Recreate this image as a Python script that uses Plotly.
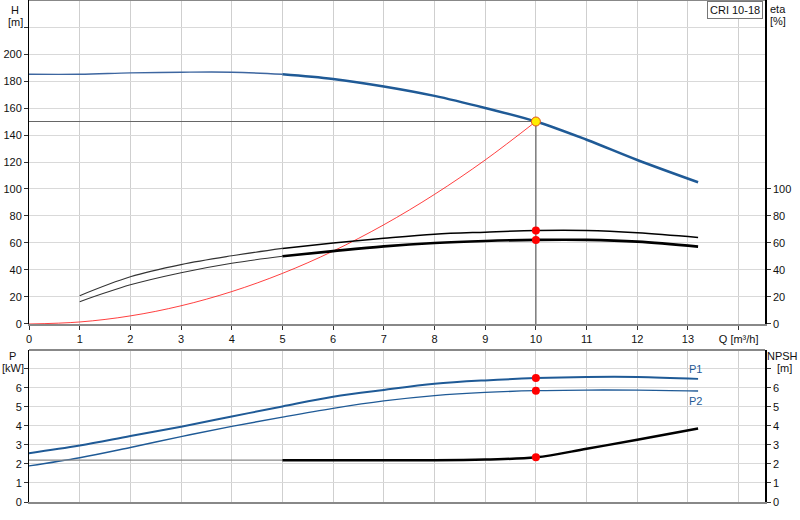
import plotly.graph_objects as go

# flow rate Q [m3/h]
q = [0, 1, 2, 3, 4, 5, 6, 7, 8, 9, 10, 11, 12, 13.2]
q_eta = [1, 2, 3, 4, 5, 6, 7, 8, 9, 10, 11, 12, 13.2]

# head H [m]
head = [185, 185, 186, 186.5, 186.5, 185, 181.5, 176, 169, 160, 150, 136.5, 121.5, 105]
# system curve
q_sys = [0, 1, 2, 3, 4, 5, 6, 7, 8, 9, 10]
h_sys = [0, 1.5, 6, 13.5, 24, 37.5, 54, 73.5, 96, 121.5, 150]
# efficiencies [%]
eta_1 = [21, 35, 44, 50.5, 56, 60, 63.5, 66.5, 68, 69.2, 69.2, 67.5, 64]
eta_2 = [16.5, 29, 38, 45, 50.2, 54, 57.5, 60, 61.5, 62.3, 62.3, 61, 57.3]
# power P1, P2 [kW]
p1 = [2.57, 2.97, 3.47, 3.96, 4.5, 5.03, 5.54, 5.9, 6.22, 6.4, 6.52, 6.58, 6.58, 6.48]
p2 = [1.9, 2.33, 2.87, 3.44, 3.98, 4.47, 4.93, 5.32, 5.6, 5.77, 5.86, 5.89, 5.89, 5.84]
# NPSH [m]
npsh = [2.2, 2.2, 2.2, 2.2, 2.2, 2.2, 2.2, 2.2, 2.2, 2.24, 2.35, 2.8, 3.28, 3.87]

duty_q = 10
duty_h = 150
duty_eta = [69.2, 62.3]
duty_p = [6.52, 5.86]
duty_npsh = 2.35

h_ticks = list(range(0, 221, 20))
eta_ticks = list(range(0, 101, 20))
p_ticks = list(range(0, 8))
q_ticks = list(range(0, 15))

BLUE = "#1f5a96"
FONT = dict(family="Liberation Sans, Arial", size=11, color="#111")

fig = go.Figure()

def cut(xs, ys, a, b):
    pts = [(x, y) for x, y in zip(xs, ys) if a <= x <= b]
    return [p[0] for p in pts], [p[1] for p in pts]

# ---- top panel ----
x, y = cut(q, head, 0, 5)
fig.add_trace(go.Scatter(x=x, y=y, mode="lines", line=dict(color="#3d66a0", width=1.4, shape="spline")))
x, y = cut(q, head, 5, 14)
fig.add_trace(go.Scatter(x=x, y=y, mode="lines", line=dict(color=BLUE, width=2.5, shape="spline")))
fig.add_trace(go.Scatter(x=q_sys, y=h_sys, mode="lines", line=dict(color="rgba(255,0,0,0.75)", width=1, shape="spline")))

for e, w in ((eta_1, 1.5), (eta_2, 2.6)):
    x, y = cut(q_eta, e, 0, 5)
    fig.add_trace(go.Scatter(x=x, y=y, mode="lines", line=dict(color="#333", width=1.1, shape="spline")))
    x, y = cut(q_eta, e, 5, 14)
    fig.add_trace(go.Scatter(x=x, y=y, mode="lines", line=dict(color="black", width=w, shape="spline")))

# duty point guide lines
fig.add_trace(go.Scatter(x=[0, duty_q, duty_q], y=[duty_h, duty_h, 0], mode="lines",
                         line=dict(color="#666", width=1.2)))
fig.add_trace(go.Scatter(x=[duty_q] * 2, y=duty_eta, mode="markers",
                         marker=dict(color="red", size=8)))
fig.add_trace(go.Scatter(x=[duty_q], y=[duty_h], mode="markers",
                         marker=dict(color="#ffee00", size=9, line=dict(color="#e05020", width=1))))

# ---- bottom panel ----
fig.add_trace(go.Scatter(x=q, y=p1, mode="lines", xaxis="x2", yaxis="y2",
                         line=dict(color=BLUE, width=2, shape="spline")))
fig.add_trace(go.Scatter(x=q, y=p2, mode="lines", xaxis="x2", yaxis="y2",
                         line=dict(color=BLUE, width=1.4, shape="spline")))
x, y = cut(q, npsh, 0, 5)
fig.add_trace(go.Scatter(x=x, y=y, mode="lines", xaxis="x2", yaxis="y2",
                         line=dict(color="#888", width=1.2)))
x, y = cut(q, npsh, 5, 14)
fig.add_trace(go.Scatter(x=x, y=y, mode="lines", xaxis="x2", yaxis="y2",
                         line=dict(color="black", width=2.5, shape="spline")))
fig.add_trace(go.Scatter(x=[duty_q] * 3, y=duty_p + [duty_npsh], mode="markers",
                         xaxis="x2", yaxis="y2", marker=dict(color="red", size=8)))

grid = "#d9d9d9"
common = dict(automargin=False, zeroline=False, tickfont=FONT)
top_dom = [0.3546, 1]
bot_dom = [0, 0.3028]
fig.update_layout(
    width=800, height=520, showlegend=False,
    margin=dict(l=29, r=35, t=0, b=18),
    plot_bgcolor="white", paper_bgcolor="white", font=FONT,
    xaxis=dict(range=[0, 14.52], tickvals=q_ticks,
               ticktext=[str(v) for v in q_ticks[:-1]] + ["Q [m³/h]"],
               showgrid=True, gridcolor="#cfcfcf", gridwidth=1.3,
               showline=True, linecolor="#888", linewidth=2,
               ticks="outside", ticklen=4, tickcolor="#333", anchor="y", **common),
    yaxis=dict(domain=top_dom, range=[0, 240], tickvals=h_ticks,
               ticktext=[str(v) if v <= 200 else "" for v in h_ticks],
               showgrid=True, gridcolor=grid, gridwidth=1.3,
               showline=True, linecolor="black", linewidth=1,
               ticks="outside", ticklen=4, tickcolor="#333", anchor="x", **common),
    yaxis3=dict(overlaying="y", side="right", range=[0, 240], tickvals=eta_ticks,
                showgrid=False, showline=True, linecolor="black",
                linewidth=1.5, ticks="outside", ticklen=4, tickcolor="#333", anchor="x", **common),
    xaxis2=dict(range=[0, 14.52], dtick=1, showticklabels=False,
                showgrid=True, gridcolor="#cfcfcf", gridwidth=1.3,
                showline=True, linecolor="#888", linewidth=2, anchor="y2", **common),
    yaxis2=dict(domain=bot_dom, range=[0, 8], tickvals=p_ticks,
                ticktext=[str(v) if v <= 6 else "" for v in p_ticks],
                showgrid=True, gridcolor=grid, gridwidth=1.3,
                showline=True, linecolor="black", linewidth=1,
                ticks="outside", ticklen=4, tickcolor="#333", anchor="x2", **common),
    yaxis4=dict(overlaying="y2", side="right", range=[0, 8], tickvals=p_ticks,
                ticktext=[str(v) if v <= 6 else "" for v in p_ticks],
                showgrid=False, showline=True, linecolor="black",
                linewidth=1.5, ticks="outside", ticklen=4, tickcolor="#333", anchor="x2", **common),
)
# dummy traces so the right axes render
fig.add_trace(go.Scatter(x=[None], y=[None], yaxis="y3", showlegend=False))
fig.add_trace(go.Scatter(x=[None], y=[None], xaxis="x2", yaxis="y4", showlegend=False))

# top borders of both panels
fig.add_shape(type="line", xref="x domain", yref="y domain", x0=0, x1=1, y0=1, y1=1,
              line=dict(color="#888", width=2))
fig.add_shape(type="line", xref="x2 domain", yref="y2 domain", x0=0, x1=1, y0=1, y1=1,
              line=dict(color="#888", width=2))

# axis titles, placed in pixels via paper coords (plot area: x 29..765, y 0..502)
def px(xp, yp):
    return (xp - 29) / 736, (502 - yp) / 502

ann = [
    ("H", 15, 2, "center"), ("[m]", 15, 14, "center"),
    ("eta", 768, 1, "left"), ("[%]", 768, 13, "left"),
    ("P", 12, 348, "center"), ("[kW]", 13, 360, "center"),
    ("NPSH", 800, 348, "right"), ("[m]", 784, 360, "center"),
]
for t, xp, yp, anc in ann:
    xa, ya = px(xp, yp)
    fig.add_annotation(text=t, xref="paper", yref="paper", x=xa, y=ya, showarrow=False,
                       xanchor=anc, yanchor="top", font=FONT)

xa, ya = px(763, 1)
fig.add_annotation(text="CRI 10-18", xref="paper", yref="paper", x=xa, y=ya,
                   xanchor="right", yanchor="top", showarrow=False, font=FONT,
                   bgcolor="white", bordercolor="#777", borderwidth=1, borderpad=2)
fig.add_annotation(text="P1", x=13.2, y=p1[-1], xref="x2", yref="y2", showarrow=False,
                   yshift=10, xshift=-3, font=dict(family="Liberation Sans, Arial", size=11, color=BLUE))
fig.add_annotation(text="P2", x=13.2, y=p2[-1], xref="x2", yref="y2", showarrow=False,
                   yshift=-10, xshift=-3, font=dict(family="Liberation Sans, Arial", size=11, color=BLUE))

# page body margin removed so the figure sits at the window's top-left corner
fig.write_html("out.html", config={"displayModeBar": False},
               post_script="document.body.style.margin='0';")
